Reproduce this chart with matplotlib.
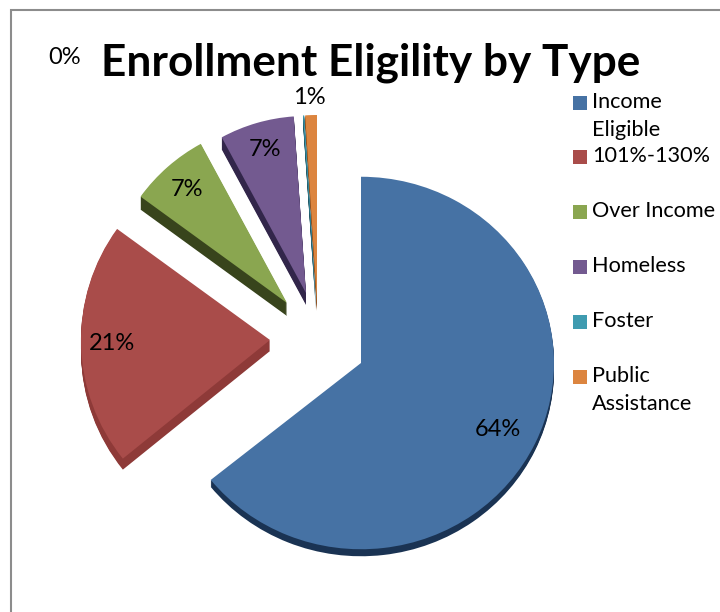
import matplotlib
matplotlib.use('Agg')
import matplotlib.pyplot as plt
from matplotlib.patches import Rectangle
from matplotlib.transforms import Affine2D

plt.rcParams['font.family'] = ['Lato', 'DejaVu Sans']

# Datos
categories = ['Income\nEligible', '101%-130%', 'Over Income', 'Homeless', 'Foster', 'Public\nAssistance']
values = [64.2, 20.8, 7.1, 6.8, 0.1, 1.0]
title = 'Enrollment Eligility by Type'

# Colores
top_colors = ['#4672a4', '#a94c4a', '#8aa650', '#735a90', '#3f9bb0', '#dc853f']
side_colors = ['#1a3353', '#8e3a38', '#38441c', '#32264a', '#1d5563', '#8a4d1d']

# Posicion de cada porcion en pixeles (apex x, apex y, radio, grosor, escala vertical)
apex_x = [361, 270, 287, 306, 316, 317]
apex_y = [363, 340, 303, 293, 303, 303]
radii = [193, 189, 181, 177, 188, 188]
depths = [7, 11, 13, 12, 8, 8]
y_scale = [0.965, 1, 1, 1, 1, 1]

# Posicion de las etiquetas y la leyenda en pixeles
label_pos = [(498, 430), (112, 344), (187, 190), (265, 150), (65, 58), (309, 98)]
legend_y = [102, 156, 211, 266, 321, 376]
H = 612

fig = plt.figure(figsize=(7.2, 6.12), dpi=100)
ax = fig.add_axes([0, 0, 1, 1])


def draw_pie(colors, shift):
    wedges, _ = ax.pie(values, colors=colors, startangle=90, counterclock=False,
                       wedgeprops={'linewidth': 0})
    for i, w in enumerate(wedges):
        cy = H - apex_y[i] - shift
        w.set_center((apex_x[i], cy))
        w.set_radius(radii[i])
        squash = Affine2D().translate(0, -cy).scale(1, y_scale[i]).translate(0, cy)
        w.set_transform(squash + ax.transData)
        if shift > depths[i]:
            w.set_visible(False)


# Grosor de las porciones
for shift in range(max(depths), 0, -1):
    draw_pie(side_colors, shift)
draw_pie(top_colors, 0)

ax.set_aspect('auto')
ax.set_xlim(0, 720)
ax.set_ylim(0, H)
ax.axis('off')

# Marco (solo se ve arriba y a la izquierda)
ax.add_patch(Rectangle((11, -20), 760, H - 10 + 20, fill=False, edgecolor='#8c8c8c', linewidth=1.5))

# Titulo
ax.text(371, H - 63, title, fontsize=31.8, fontweight='bold', ha='center', va='center', color='black')

# Etiquetas de porcentaje
for v, (x, y) in zip(values, label_pos):
    ax.text(x, H - y, f'{round(v)}%', fontsize=17, ha='center', va='center', color='black')

# Leyenda
for name, color, y in zip(categories, top_colors, legend_y):
    ax.add_patch(Rectangle((573, H - y - 8), 14, 14, facecolor=color, edgecolor='none'))
    lines = name.split('\n')
    for j, line in enumerate(lines):
        ax.text(592, H - y - j * 28.5, line, fontsize=15.6, ha='left', va='center', color='black')

fig.savefig('out.png', dpi=100)
